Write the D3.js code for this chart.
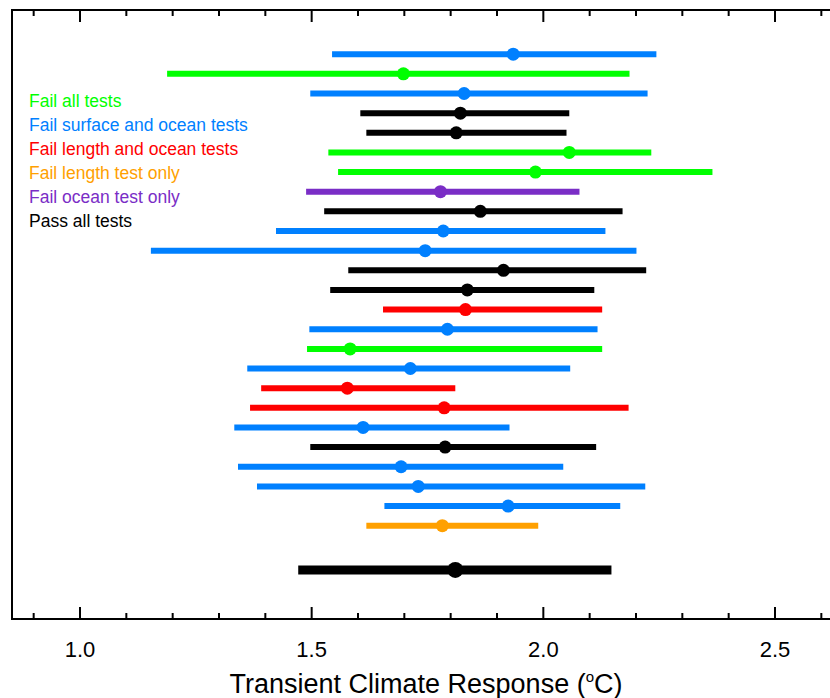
<!DOCTYPE html>
<html><head><meta charset="utf-8">
<script src="https://cdn.jsdelivr.net/npm/d3@7"></script>
<style>body{margin:0;background:#fff}svg{display:block}text{font-family:"Liberation Sans",Arial,Helvetica,sans-serif}</style>
</head><body><svg id="c" width="830" height="698"></svg>
<script>
// Model estimates (top to bottom)
const groups = ["surfocean","all","surfocean","pass","pass","all","all","ocean","pass","surfocean","surfocean","pass","pass","lengthocean","surfocean","all","surfocean","lengthocean","lengthocean","surfocean","pass","surfocean","surfocean","surfocean","length"];
const best = [1.935,1.698,1.829,1.821,1.812,2.056,1.983,1.778,1.864,1.784,1.745,1.914,1.836,1.832,1.793,1.583,1.713,1.577,1.786,1.611,1.788,1.693,1.730,1.924,1.782];
const low  = [1.544,1.188,1.497,1.605,1.618,1.536,1.557,1.488,1.527,1.423,1.153,1.579,1.540,1.654,1.495,1.490,1.361,1.391,1.367,1.333,1.497,1.341,1.382,1.657,1.618];
const high = [2.244,2.186,2.225,2.056,2.050,2.233,2.365,2.078,2.171,2.134,2.201,2.222,2.110,2.127,2.117,2.127,2.058,1.810,2.184,1.927,2.114,2.043,2.220,2.166,1.989];
// Combined estimate
const meanBest = 1.810, meanLow = 1.471, meanHigh = 2.147;
// Legend
const legendKeys = ["all","surfocean","lengthocean","length","ocean","pass"];
const legendLabels = ["Fail all tests","Fail surface and ocean tests","Fail length and ocean tests","Fail length test only","Fail ocean test only","Pass all tests"];
const legendColors = ["#00ff00","#0080ff","#ff0000","#ffa000","#7a2dc6","#000000"];
const xTicks = [1.0,1.5,2.0,2.5];
const xTitle = "Transient Climate Response (";

const svg = d3.select("#c");
const L=12, T=10, B=619, R=850;
const x = d3.scaleLinear().domain([1.0,2.5]).range([80,775]);
const y = d3.scaleLinear().domain([0,31]).range([T,B]);
const color = d3.scaleOrdinal().domain(legendKeys).range(legendColors);

const rows = best.map((b,i)=>({b, lo:low[i], hi:high[i], g:groups[i], pos:i+2.25}));

const g = svg.append("g");
g.selectAll("line.bar").data(rows).join("line").attr("class","bar")
  .attr("x1",d=>x(d.lo)).attr("x2",d=>x(d.hi))
  .attr("y1",d=>y(d.pos)).attr("y2",d=>y(d.pos))
  .attr("stroke",d=>color(d.g)).attr("stroke-width",6);
g.selectAll("circle.dot").data(rows).join("circle").attr("class","dot")
  .attr("cx",d=>x(d.b)).attr("cy",d=>y(d.pos)).attr("r",6.5)
  .attr("fill",d=>color(d.g));

const mp = 28.5;
g.append("line").attr("x1",x(meanLow)).attr("x2",x(meanHigh)).attr("y1",y(mp)).attr("y2",y(mp))
  .attr("stroke","#000").attr("stroke-width",9);
g.append("circle").attr("cx",x(meanBest)).attr("cy",y(mp)).attr("r",8).attr("fill","#000");

// Frame
svg.append("path").attr("d",`M${R},${T}H${L}V${B}H${R}`).attr("fill","none").attr("stroke","#000").attr("stroke-width",2);

// Axes with ticks pointing inward
const minor = d3.range(0.9,2.65,0.1).map(v=>Math.round(v*10)/10);
const ax = svg.append("g");
minor.forEach(v=>{
  const major = xTicks.some(t=>Math.abs(t-v)<1e-6);
  const len = major?12:6;
  ax.append("line").attr("x1",x(v)).attr("x2",x(v)).attr("y1",B).attr("y2",B-len).attr("stroke","#000").attr("stroke-width",2);
  ax.append("line").attr("x1",x(v)).attr("x2",x(v)).attr("y1",T).attr("y2",T+len).attr("stroke","#000").attr("stroke-width",2);
});
ax.selectAll("text.tl").data(xTicks).join("text").attr("class","tl")
  .attr("x",d=>x(d)).attr("y",657).attr("text-anchor","middle").attr("font-size",22)
  .text(d=>d3.format(".1f")(d));

const t = svg.append("text").attr("x",426).attr("y",693).attr("text-anchor","middle").attr("font-size",27);
t.append("tspan").text(xTitle);
t.append("tspan").attr("font-size",15).attr("dy",-11).text("o");
t.append("tspan").attr("dy",11).text("C)");

// Legend
svg.selectAll("text.lg").data(legendLabels).join("text").attr("class","lg")
  .attr("x",29).attr("y",(d,i)=>107+i*24).attr("font-size",17.5)
  .attr("fill",(d,i)=>legendColors[i]).text(d=>d);
</script></body></html>
